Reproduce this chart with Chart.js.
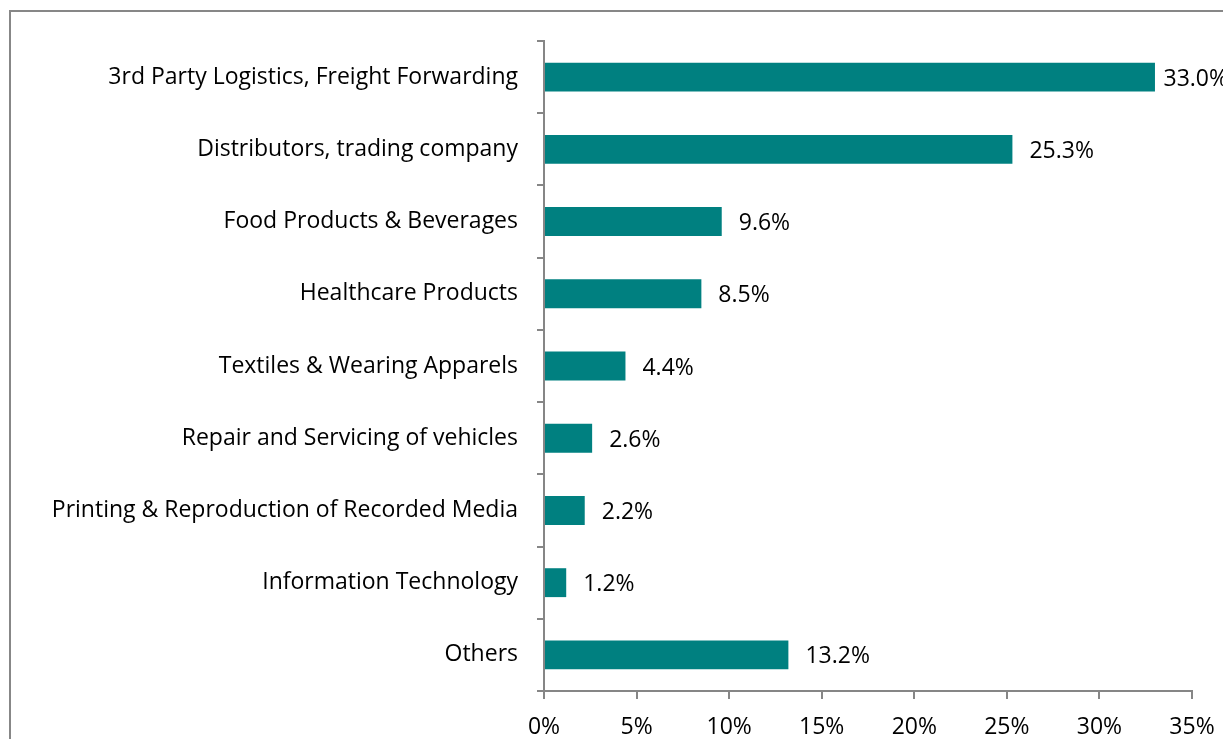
<!DOCTYPE html>
<html>
<head>
<meta charset="utf-8">
<script src="https://cdn.jsdelivr.net/npm/chart.js@4.4.1/dist/chart.umd.min.js"></script>
<style>
  html, body { margin: 0; padding: 0; background: #fff; overflow: hidden; }
  #wrap { position: relative; width: 1223px; height: 739px; }
</style>
</head>
<body>
<div id="wrap"><canvas id="chart" width="1223" height="739"></canvas></div>
<script>
const categories = [
  '3rd Party Logistics, Freight Forwarding',
  'Distributors, trading company',
  'Food Products & Beverages',
  'Healthcare Products',
  'Textiles & Wearing Apparels',
  'Repair and Servicing of vehicles',
  'Printing & Reproduction of Recorded Media',
  'Information Technology',
  'Others'
];
const shares = [33.0, 25.3, 9.6, 8.5, 4.4, 2.6, 2.2, 1.2, 13.2];
const tickValues = [0, 5, 10, 15, 20, 25, 30, 35];

const FONT = '"Open Sans"';
const SIZE = 23;
const axisGray = '#868686';

// outer frame that runs off the right and bottom edge
const framePlugin = {
  id: 'frame',
  beforeDraw(chart) {
    const c = chart.ctx;
    c.save();
    c.fillStyle = '#fff';
    c.fillRect(0, 0, chart.width, chart.height);
    c.strokeStyle = '#878787';
    c.lineWidth = 2;
    c.strokeRect(10, 11, 3000, 3000);
    c.restore();
  }
};

// value labels to the right of the bars
const valueLabels = {
  id: 'valueLabels',
  afterDatasetsDraw(chart) {
    const c = chart.ctx;
    const meta = chart.getDatasetMeta(0);
    c.save();
    c.font = SIZE + 'px ' + FONT;
    c.fillStyle = '#000';
    c.textBaseline = 'middle';
    meta.data.forEach((bar, i) => {
      const txt = shares[i].toFixed(1) + '%';
      const w = c.measureText(txt).width;
      const x = Math.min(bar.x + 17, 1228 - w);
      c.fillText(txt, x, bar.y + 2);
    });
    c.restore();
  }
};

new Chart(document.getElementById('chart'), {
  type: 'bar',
  data: {
    labels: categories,
    datasets: [{
      data: shares,
      backgroundColor: '#008080',
      barPercentage: 0.4,
      categoryPercentage: 1.0
    }]
  },
  options: {
    indexAxis: 'y',
    responsive: false,
    animation: false,
    layout: { padding: { top: 41, right: 31, bottom: 0, left: 0 } },
    plugins: { legend: { display: false }, tooltip: { enabled: false } },
    scales: {
      x: {
        min: 0,
        max: 35,
        afterBuildTicks(axis) { axis.ticks = tickValues.map(v => ({ value: v })); },
        afterFit(axis) { axis.height = 48; axis.paddingLeft = 0; axis.paddingRight = 0; },
        border: { color: axisGray, width: 2 },
        grid: { drawOnChartArea: false, color: axisGray, lineWidth: 2, tickLength: 8 },
        ticks: {
          color: '#000',
          font: { family: FONT, size: SIZE },
          padding: 15,
          maxRotation: 0,
          callback: v => v + '%'
        }
      },
      y: {
        afterFit(axis) { axis.width = 544; axis.paddingTop = 0; axis.paddingBottom = 0; },
        border: { color: axisGray, width: 2 },
        grid: { drawOnChartArea: false, color: axisGray, lineWidth: 2, tickLength: 7, offset: true },
        ticks: {
          color: '#000',
          font: { family: FONT, size: SIZE },
          padding: 19
        }
      }
    }
  },
  plugins: [framePlugin, valueLabels]
});
</script>
</body>
</html>
